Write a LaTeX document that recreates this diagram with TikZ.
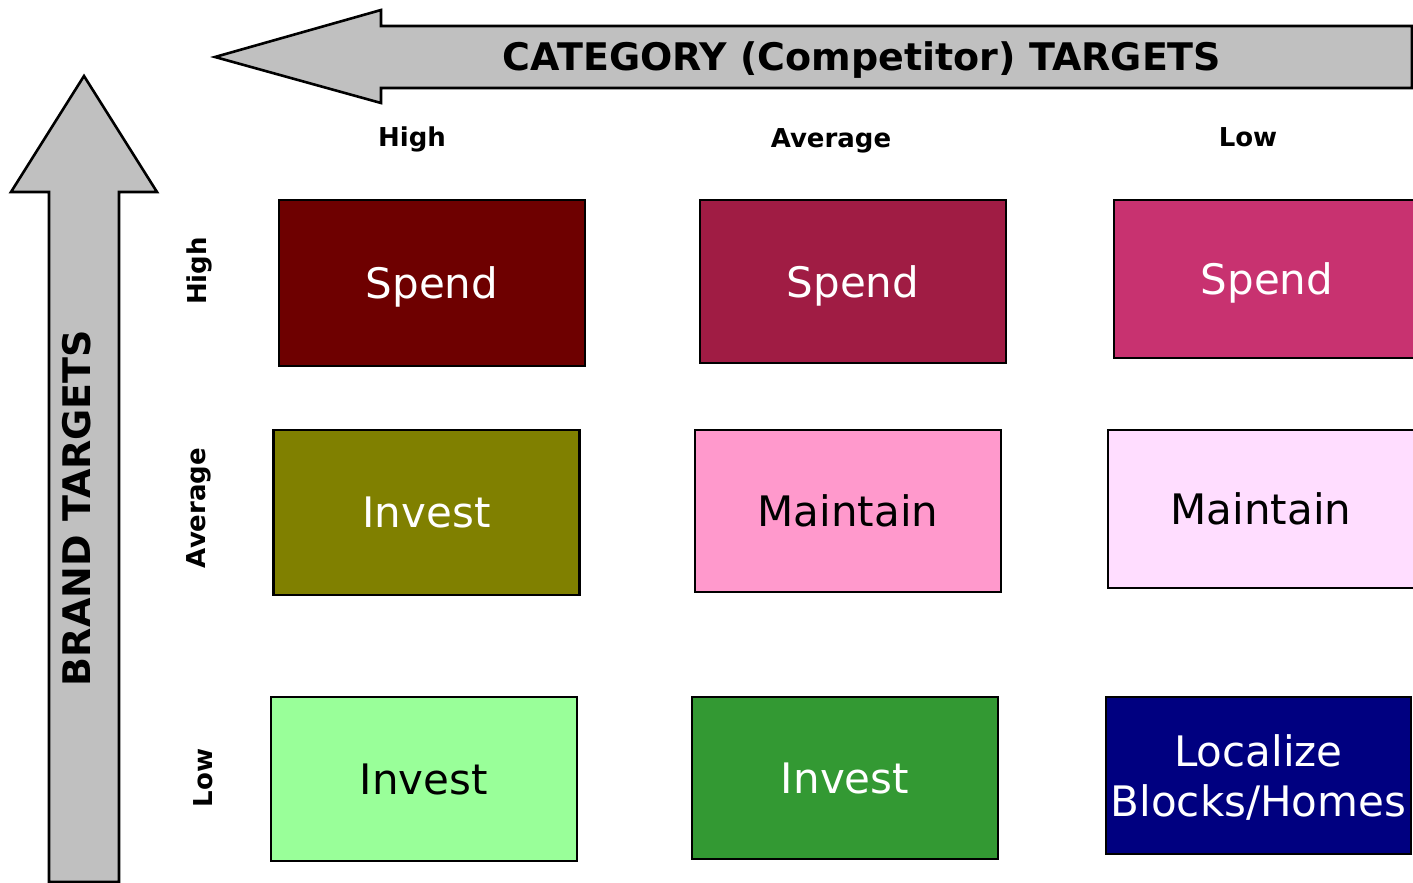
\documentclass[tikz,border=0pt]{standalone}
\usepackage{fontspec}
\setmainfont{DejaVu Sans}
\usepackage{tikz}
\definecolor{spendA}{HTML}{6E0000}
\definecolor{spendB}{HTML}{A01C44}
\definecolor{spendC}{HTML}{C83270}
\definecolor{investA}{HTML}{808000}
\definecolor{investB}{HTML}{99FF99}
\definecolor{investC}{HTML}{339933}
\definecolor{maintainA}{HTML}{FF99CC}
\definecolor{maintainB}{HTML}{FFDDFF}
\definecolor{localize}{HTML}{000080}
\definecolor{arrowgray}{HTML}{C0C0C0}
\newcommand{\cellfont}{\fontsize{21pt}{25pt}\selectfont}
\newcommand{\headfont}{\fontsize{13pt}{15pt}\selectfont\bfseries}

\begin{document}
\begin{tikzpicture}[x=0.5pt,y=-0.5pt,
    cell/.style={draw=black, line width=1.4pt, minimum width=153pt, inner sep=0pt,
      text depth=0pt, font=\cellfont, align=center},
    head/.style={font=\headfont, anchor=base},
    side/.style={font=\headfont, rotate=90},
    bigarrow/.style={draw=black, line width=1.3pt, fill=arrowgray, line join=miter}]
  \useasboundingbox (0,0) rectangle (1413,883);

  % category arrow (pointing left)
  \draw[bigarrow] (215,57) -- (381,10) -- (381,26) -- (1412,26) -- (1412,88)
    -- (381,88) -- (381,103) -- cycle;
  \node[font=\fontsize{19pt}{22pt}\selectfont\bfseries] (cattitle) at (862,60)
    {CATEGORY (Competitor) TARGETS};

  % brand arrow (pointing up)
  \draw[bigarrow] (84,76) -- (157,192) -- (119,192) -- (119,882) -- (49,882)
    -- (49,192) -- (11,192) -- cycle;
  \node[font=\fontsize{19pt}{22pt}\selectfont\bfseries, rotate=90] (brandtitle)
    at (77,508) {BRAND TARGETS};

  % column heads
  \node[head] (colhigh) at (412,147) {High};
  \node[head] (colavg)  at (831,148) {Average};
  \node[head] (collow)  at (1248,147) {Low};

  % row heads
  \node[side] (rowhigh) at (199,271) {High};
  \node[side] (rowavg)  at (199,508) {Average};
  \node[side] (rowlow)  at (203,778) {Low};

  % high brand row
  \node[cell, fill=spendA, text=white, minimum height=83pt] (hh) at (432,283) {Spend};
  \node[cell, fill=spendB, text=white, minimum height=81.5pt] (ha) at (853,281.5) {Spend};
  \node[cell, fill=spendC, text=white, minimum height=79pt] (hl) at (1267,279) {Spend};

  % average brand row
  \node[cell, fill=investA, text=white, minimum height=82.5pt] (ah) at (426.5,512.5) {Invest};
  \node[cell, fill=maintainA, minimum height=81pt] (aa) at (848,511) {Maintain};
  \node[cell, fill=maintainB, minimum height=79pt] (al) at (1261,509) {Maintain};

  % low brand row
  \node[cell, fill=investB, minimum height=82pt] (lh) at (424,779) {Invest};
  \node[cell, fill=investC, text=white, minimum height=81pt] (la) at (845,778) {Invest};
  \node[cell, fill=localize, text=white, minimum height=78.5pt, minimum width=152.5pt]
    (ll) at (1258.5,775.5) {Localize\\Blocks/Homes};
\end{tikzpicture}
\end{document}
